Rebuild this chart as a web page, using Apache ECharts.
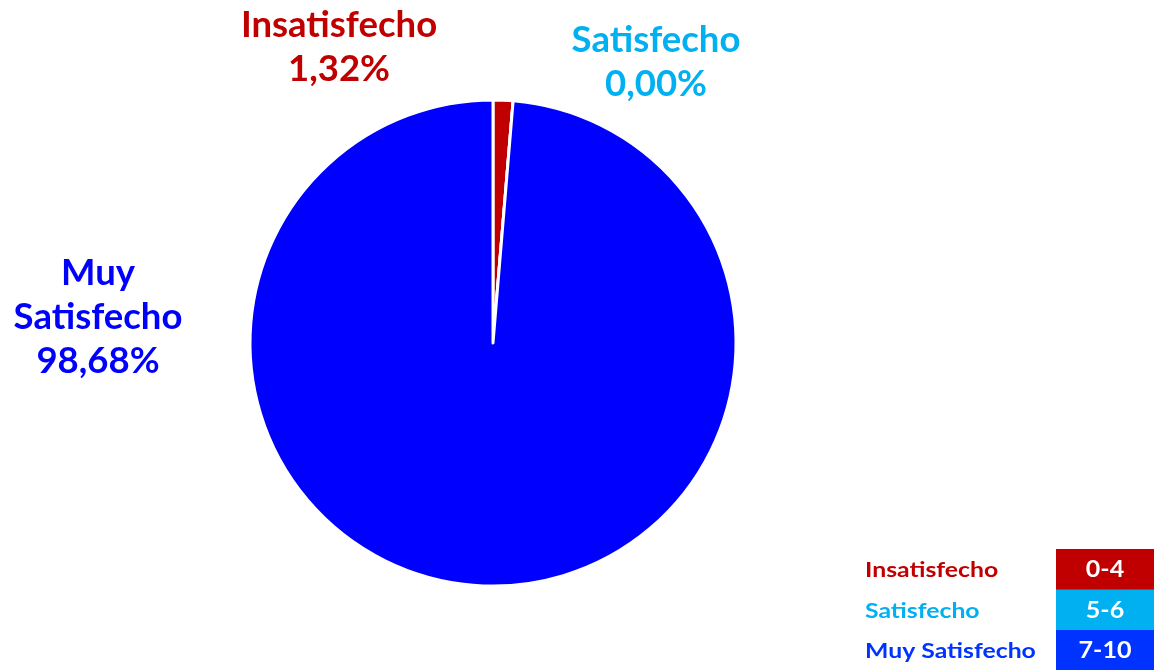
<!DOCTYPE html>
<html>
<head>
<meta charset="utf-8">
<script src="https://cdn.jsdelivr.net/npm/echarts@6/dist/echarts.min.js"></script>
<style>
  html, body { margin: 0; padding: 0; background: #ffffff; }
  #chart { width: 1154px; height: 670px; }
</style>
</head>
<body>
<div id="chart"></div>
<script>
// Satisfaction categories and their shares (%)
const categories = ['Insatisfecho', 'Satisfecho', 'Muy Satisfecho'];
const shares = [1.32, 0.00, 98.68];
const colors = ['#C00000', '#00B0F0', '#0000FF'];

// Score ranges shown in the key
const scoreRanges = ['0-4', '5-6', '7-10'];
const keyColors = ['#C00000', '#00B0F0', '#0033FF'];

// Where each slice label sits (centre of the text block)
const labelSpots = [[339, 47], [656, 62], [98, 317]];

const FONT = 'Lato, "Open Sans", sans-serif';

const chart = echarts.init(document.getElementById('chart'), null, { renderer: 'canvas' });

const fmt = v => v.toFixed(2).replace('.', ',') + '%';

const pieData = categories.map((name, i) => ({
  name: name,
  value: shares[i],
  itemStyle: { color: colors[i] },
  label: { color: colors[i] }
}));

// Key: category names on the left, coloured score boxes on the right
const keyGraphics = [];
const rowTop = 549, rowH = 40.5, boxX = 1056, boxW = 98;
categories.forEach((name, i) => {
  const y = rowTop + i * rowH;
  keyGraphics.push({
    type: 'rect',
    left: boxX, top: y,
    shape: { width: boxW, height: rowH + 0.5 },
    style: { fill: keyColors[i] }
  });
  keyGraphics.push({
    type: 'text',
    x: boxX + boxW / 2, y: y + rowH / 2 + 1,
    scaleX: 1.14,
    style: {
      x: 0, y: 0,
      text: scoreRanges[i], fill: '#ffffff',
      font: 'bold 22px ' + FONT, align: 'center', verticalAlign: 'middle'
    }
  });
  keyGraphics.push({
    type: 'text',
    x: 865, y: y + rowH / 2 + 1,
    scaleX: 1.18,
    style: {
      x: 0, y: 0,
      text: name, fill: keyColors[i],
      font: 'bold 21px ' + FONT, align: 'left', verticalAlign: 'middle'
    }
  });
});

chart.setOption({
  backgroundColor: '#ffffff',
  animation: false,
  graphic: keyGraphics,
  series: [{
    type: 'pie',
    center: [493, 343],
    radius: [0, 243],
    startAngle: 90,
    clockwise: true,
    minAngle: 0,
    stillShowZeroSum: true,
    avoidLabelOverlap: false,
    itemStyle: { borderColor: '#ffffff', borderWidth: 3 },
    emphasis: { disabled: true },
    label: {
      show: true,
      position: 'outside',
      formatter: p => p.name.replace(' ', '\n') + '\n' + fmt(p.value),
      fontFamily: FONT,
      fontWeight: 'bold',
      fontSize: 36.5,
      lineHeight: 44,
      align: 'center'
    },
    labelLine: { show: false },
    labelLayout: p => ({
      x: labelSpots[p.dataIndex][0],
      y: labelSpots[p.dataIndex][1],
      align: 'center',
      verticalAlign: 'middle'
    }),
    data: pieData
  }]
});
</script>
</body>
</html>
